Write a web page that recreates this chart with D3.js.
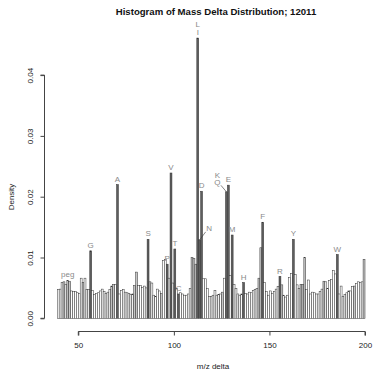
<!DOCTYPE html>
<html>
<head>
<meta charset="utf-8">
<script src="https://cdn.jsdelivr.net/npm/d3@7"></script>
<style>
  html, body { margin: 0; padding: 0; background: #fff; }
  svg { display: block; font-family: "Liberation Sans", Arial, sans-serif; }
</style>
</head>
<body>
<svg id="chart" width="373" height="370"></svg>
<script>
// histogram bins are 1 m/z wide, the first one starts at 39
const firstBin = 39;
const density = [
  0.0047, 0.0048, 0.0059, 0.0060, 0.0056, 0.0062, 0.0061, 0.0045, 0.0044, 0.0044, // 39-48
  0.0042, 0.0041, 0.0066, 0.0059, 0.0066, 0.0047, 0.0047, 0.0111, 0.0046, 0.0039, // 49-58
  0.0041, 0.0042, 0.0045, 0.0048, 0.0044, 0.0041, 0.0043, 0.0047, 0.0053, 0.0056, // 59-68
  0.0056, 0.0220, 0.0040, 0.0046, 0.0047, 0.0043, 0.0042, 0.0041, 0.0039, 0.0040, // 69-78
  0.0054, 0.0076, 0.0054, 0.0054, 0.0051, 0.0053, 0.0050, 0.0130, 0.0060, 0.0058, // 79-88
  0.0038, 0.0036, 0.0048, 0.0045, 0.0041, 0.0095, 0.0097, 0.0089, 0.0066, 0.0239, // 89-98
  0.0058, 0.0114, 0.0049, 0.0040, 0.0042, 0.0040, 0.0038, 0.0038, 0.0040, 0.0049, // 99-108
  0.0100, 0.0098, 0.0089, 0.0461, 0.0129, 0.0209, 0.0065, 0.0065, 0.0049, 0.0036, // 109-118
  0.0036, 0.0038, 0.0046, 0.0038, 0.0039, 0.0040, 0.0043, 0.0066, 0.0208, 0.0219, // 119-128
  0.0070, 0.0137, 0.0056, 0.0049, 0.0040, 0.0038, 0.0040, 0.0059, 0.0041, 0.0040, // 129-138
  0.0043, 0.0042, 0.0046, 0.0047, 0.0049, 0.0066, 0.0116, 0.0158, 0.0059, 0.0044, // 139-148
  0.0038, 0.0045, 0.0041, 0.0044, 0.0048, 0.0052, 0.0069, 0.0055, 0.0038, 0.0035, // 149-158
  0.0038, 0.0067, 0.0074, 0.0130, 0.0072, 0.0055, 0.0049, 0.0056, 0.0056, 0.0100, // 159-168
  0.0047, 0.0063, 0.0040, 0.0043, 0.0042, 0.0040, 0.0040, 0.0044, 0.0048, 0.0061, // 169-178
  0.0060, 0.0049, 0.0062, 0.0064, 0.0079, 0.0073, 0.0105, 0.0040, 0.0053, 0.0036, // 179-188
  0.0039, 0.0042, 0.0045, 0.0045, 0.0052, 0.0053, 0.0057, 0.0060, 0.0059, 0.0060, // 189-198
  0.0097                                                                          // 199
];
// bins drawn in light grey
const lightBins = [42, 44, 45, 52, 67, 68, 79, 80, 87, 93, 109, 110, 111, 125, 144, 145, 156, 166, 167, 168, 178, 194, 199];
// amino acid residue bins, drawn dark
const residueNames = ['G', 'A', 'S', 'P', 'V', 'T', 'C', 'I', 'N', 'D', 'Q', 'E', 'M', 'H', 'F', 'R', 'Y', 'W'];
const residueBins = [56, 70, 86, 96, 98, 100, 102, 112, 113, 114, 127, 128, 130, 136, 146, 155, 162, 185];
// other annotations
const extraNames = ['peg'];
const extraBins = [44];
const xTicks = [50, 100, 150, 200];
const yTicks = [0, 0.01, 0.02, 0.03, 0.04];

const bins = density.map((d, i) => ({ x0: firstBin + i, x1: firstBin + i + 1, y: d }));
const binOf = (start) => bins[start - firstBin];

const svg = d3.select('#chart');

const x = d3.scaleLinear().domain([50, 200]).range([78.3, 365]);
const y = d3.scaleLinear().domain([0, 0.04]).range([318.3, 75.1]);

const fillOf = (b) => {
  if (residueBins.includes(b.x0)) return '#5e5e5e';
  if (lightBins.includes(b.x0)) return '#c6c6c6';
  return '#ffffff';
};

// bars
svg.append('g')
  .selectAll('rect')
  .data(bins)
  .enter()
  .append('rect')
  .attr('x', (d) => x(d.x0))
  .attr('y', (d) => y(d.y))
  .attr('width', (d) => x(d.x1) - x(d.x0))
  .attr('height', (d) => y(0) - y(d.y))
  .attr('fill', fillOf)
  .attr('stroke', '#333')
  .attr('stroke-width', 0.5);

// x axis, R style: line only spans the ticks
const xAxis = svg.append('g')
  .attr('transform', 'translate(0,331.5)')
  .call(d3.axisBottom(x).tickValues(xTicks).tickSize(4).tickPadding(7).tickFormat(d3.format('d')));
xAxis.select('.domain').attr('d', `M${x(50)},4V0H${x(200)}V4`).attr('stroke', '#444');
xAxis.selectAll('.tick line').attr('stroke', '#444');
xAxis.selectAll('text').attr('font-size', 8).attr('fill', '#222').attr('font-family', null);

// y axis with rotated labels
const yAxis = svg.append('g')
  .attr('transform', 'translate(44.5,0)')
  .call(d3.axisLeft(y).tickValues(yTicks).tickSize(4).tickFormat(d3.format('.2f')));
yAxis.select('.domain').attr('d', `M-4,${y(0)}H0V${y(0.04)}H-4`).attr('stroke', '#444');
yAxis.selectAll('.tick line').attr('stroke', '#444');
yAxis.selectAll('text')
  .attr('font-size', 8)
  .attr('fill', '#222')
  .attr('font-family', null)
  .attr('x', null)
  .attr('dy', null)
  .attr('text-anchor', 'middle')
  .attr('transform', 'translate(-11.5,0) rotate(-90)');

// residue labels
const labelColor = '#8a8a8a';
const labels = svg.append('g')
  .attr('font-size', 8)
  .attr('fill', labelColor)
  .attr('text-anchor', 'middle');

residueNames.forEach((name, i) => {
  const b = binOf(residueBins[i]);
  const cx = x((b.x0 + b.x1) / 2);
  const top = y(b.y);
  if (name === 'I') {
    labels.append('text').attr('x', cx).attr('y', top - 2.8).text('I');
    labels.append('text').attr('x', cx).attr('y', top - 10.8).text('L');
  } else if (name === 'Q') {
    labels.append('text').attr('x', cx - 9).attr('y', top - 6.7).text('Q');
    labels.append('text').attr('x', cx - 9).attr('y', top - 14.2).text('K');
    svg.append('line')
      .attr('x1', cx - 5.5).attr('y1', top - 6.5).attr('x2', cx).attr('y2', top)
      .attr('stroke', '#333').attr('stroke-width', 0.6);
  } else if (name === 'N') {
    labels.append('text').attr('x', cx + 9.5).attr('y', top - 9).text('N');
    svg.append('line')
      .attr('x1', cx).attr('y1', top).attr('x2', cx + 6).attr('y2', top - 8)
      .attr('stroke', '#333').attr('stroke-width', 0.6);
  } else {
    labels.append('text').attr('x', cx).attr('y', top - 2.8).text(name);
  }
});

extraNames.forEach((name, i) => {
  const b = binOf(extraBins[i]);
  labels.append('text')
    .attr('x', x((b.x0 + b.x1) / 2))
    .attr('y', y(b.y) - 3.5)
    .text(name);
});

// titles
svg.append('text')
  .attr('x', 216)
  .attr('y', 15)
  .attr('text-anchor', 'middle')
  .attr('font-size', 9.6)
  .attr('font-weight', 'bold')
  .attr('fill', '#111')
  .text('Histogram of Mass Delta Distribution; 12011');

svg.append('text')
  .attr('x', 213)
  .attr('y', 369)
  .attr('text-anchor', 'middle')
  .attr('font-size', 8)
  .attr('fill', '#222')
  .text('m/z delta');

svg.append('text')
  .attr('transform', 'translate(14,197) rotate(-90)')
  .attr('text-anchor', 'middle')
  .attr('font-size', 8)
  .attr('fill', '#222')
  .text('Density');
</script>
</body>
</html>
